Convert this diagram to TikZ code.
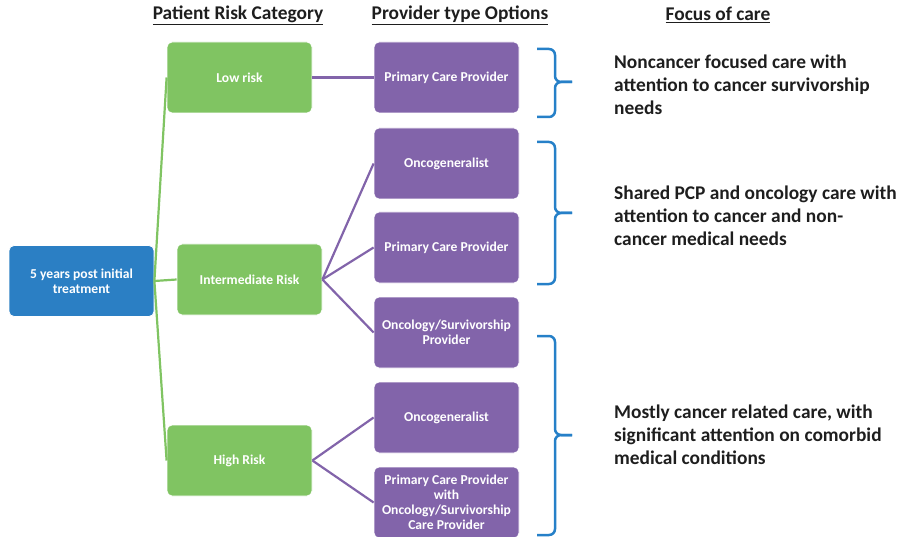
\documentclass[tikz,border=0pt]{standalone}
\usepackage{fontspec}
\setmainfont{Carlito}
\usepackage{tikz}

\definecolor{rootblue}{RGB}{43,127,196}
\definecolor{riskgreen}{RGB}{128,196,98}
\definecolor{provpurple}{RGB}{130,100,170}
\definecolor{braceblue}{RGB}{38,128,200}
\definecolor{headgray}{RGB}{30,30,30}

\begin{document}
\begin{tikzpicture}[x=1pt, y=-1pt,
		box/.style={rounded corners=5pt, minimum width=145pt, minimum height=71pt, inner sep=1pt,
			draw=white, line width=0.8pt, text=white, align=center,
			font=\bfseries\fontsize{13.6}{15}\selectfont},
		rootbox/.style={box, fill=rootblue},
		riskbox/.style={box, fill=riskgreen},
		provbox/.style={box, fill=provpurple},
		heading/.style={text=headgray, font=\bfseries\fontsize{19.4}{22}\selectfont},
		focus/.style={anchor=west, inner sep=0pt, align=left, text=headgray,
			font=\bfseries\fontsize{19.4}{22.8}\selectfont},
		greenline/.style={riskgreen, line width=2.2pt},
		purpleline/.style={provpurple, line width=2.2pt},
		bracket/.style={braceblue, line width=2.5pt, rounded corners=6pt}]
			\useasboundingbox (0, 0) rectangle (899, 537);

			\node[heading] (hrisk) at (238, 15) {\underline{Patient Risk Category}};
			\node[heading] (hprov) at (460, 15) {\underline{Provider type Options}};
			\node[heading] (hfocus) at (718, 15) {\underline{Focus of care}};

			\node[rootbox] (start) at (81.5, 281) {5 years post initial\\treatment};

			\node[riskbox] (low) at (239.5, 77.5) {Low risk};
			\node[riskbox] (inter) at (249.5, 279.5) {Intermediate Risk};
			\node[riskbox] (high) at (239.5, 460.5) {High Risk};

			\node[provbox] (pcpa) at (446.5, 77.5) {Primary Care Provider};
			\node[provbox] (oncoa) at (446.5, 163.5) {Oncogeneralist};
			\node[provbox] (pcpb) at (446.5, 247.5) {Primary Care Provider};
			\node[provbox] (survivor) at (446.5, 332.5) {Oncology/Survivorship\\Provider};
			\node[provbox] (oncob) at (446.5, 417.5) {Oncogeneralist};
			\node[provbox] (pcpsurv) at (446.5, 502.5) {Primary Care Provider\\with\\Oncology/Survivorship\\Care Provider};

			\draw[greenline] (start.east) -- (low.west);
			\draw[greenline] (start.east) -- (inter.west);
			\draw[greenline] (start.east) -- (high.west);

			\draw[purpleline] (low.east) -- (pcpa.west);
			\draw[purpleline] (inter.east) -- (oncoa.west);
			\draw[purpleline] (inter.east) -- (pcpb.west);
			\draw[purpleline] (inter.east) -- (survivor.west);
			\draw[purpleline] (high.east) -- (oncob.west);
			\draw[purpleline] (high.east) -- (pcpsurv.west);

			% right braces, top/middle/bottom
			\foreach \top/\mid/\bot in {49/82/117, 142/213/284, 336/435/535} {
				\draw[bracket] (537, \top) -- (555, \top) -- (555, \mid) -- (572, \mid);
				\draw[bracket] (572, \mid) -- (555, \mid) -- (555, \bot) -- (537, \bot);
			}

			\node[focus] (focuslow) at (614, 84.5) {Noncancer focused care with\\attention to cancer survivorship\\needs};
			\node[focus] (focusinter) at (614, 216) {Shared PCP and oncology care with\\attention to cancer and non-\\cancer medical needs};
			\node[focus] (focushigh) at (614, 435) {Mostly cancer related care, with\\significant attention on comorbid\\medical conditions};
		\end{tikzpicture}
\end{document}
